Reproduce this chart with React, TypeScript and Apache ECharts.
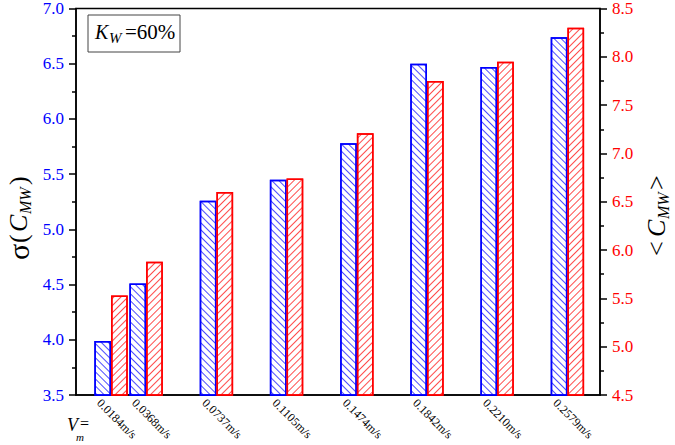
import React, { useEffect, useRef } from "react";
import * as echarts from "echarts";

const velocities = [0.0184, 0.0368, 0.0737, 0.1105, 0.1474, 0.1842, 0.221, 0.2579];
const velocityLabels = ["0.0184m/s", "0.0368m/s", "0.0737m/s", "0.1105m/s", "0.1474m/s", "0.1842m/s", "0.2210m/s", "0.2579m/s"];
const sigmaValues = [3.99, 4.51, 5.26, 5.45, 5.78, 6.5, 6.47, 6.74];
const meanValues = [5.53, 5.88, 6.6, 6.74, 7.21, 7.75, 7.95, 8.3];
const leftAxisRange = [3.5, 7.0];
const rightAxisRange = [4.5, 8.5];
const tickStep = 0.5;
const xRange = [0, 0.275];

const FONT = "'Liberation Serif', 'Times New Roman', serif";

export default function App() {
  const ref = useRef<HTMLDivElement>(null);
  useEffect(() => {
    if (!ref.current) return;
    const chart = echarts.init(ref.current, null, { renderer: "svg" });
    const blue = "#0000ff";
    const red = "#ff0000";
    const yAxisCommon = (color: string) => ({
      type: "value",
      interval: tickStep,
      axisLine: { show: true, lineStyle: { color: "#000", width: 1.5 } },
      axisTick: { show: true, length: 7, lineStyle: { color: "#000", width: 1.5 } },
      minorTick: { show: true, splitNumber: 2, length: 4, lineStyle: { color: "#000", width: 1.5 } },
      axisLabel: { color, fontFamily: FONT, fontSize: 17, margin: 12, formatter: (v: number) => v.toFixed(1) },
      splitLine: { show: false },
      minorSplitLine: { show: false },
    });
    const txt = (text: string, size: number, italic = false, extra: any = {}) => ({
      text,
      fontFamily: FONT,
      fontSize: size,
      fontStyle: italic ? "italic" : "normal",
      fill: "#000",
      verticalAlign: "middle",
      ...extra,
    });
    const option: any = {
      animation: false,
      grid: { left: 76, right: 75, top: 6, bottom: 50, show: true, borderColor: "#000", borderWidth: 1.5, containLabel: false },
      xAxis: {
        type: "value",
        min: xRange[0],
        max: xRange[1],
        axisLine: { show: true, onZero: false, lineStyle: { color: "#000", width: 1.5 } },
        axisTick: { show: false },
        axisLabel: { show: false },
        splitLine: { show: false },
      },
      yAxis: [
        { ...yAxisCommon(blue), min: leftAxisRange[0], max: leftAxisRange[1], position: "left" },
        { ...yAxisCommon(red), min: rightAxisRange[0], max: rightAxisRange[1], position: "right" },
      ],
      series: [
        {
          type: "bar",
          xAxisIndex: 0,
          yAxisIndex: 0,
          barWidth: 16.7,
          barGap: "0%",
          data: velocities.map((v, i) => [v, sigmaValues[i]]),
          itemStyle: {
            color: "#ffffff",
            borderColor: blue,
            borderWidth: 1.5,
            decal: {
              symbol: "rect",
              symbolSize: 1,
              color: "rgba(0,0,255,0.7)",
              dashArrayX: [1, 0],
              dashArrayY: [1, 4],
              rotation: Math.PI / 4,
            },
          },
          emphasis: { disabled: true },
        },
        {
          type: "bar",
          xAxisIndex: 0,
          yAxisIndex: 1,
          barWidth: 16.7,
          barGap: "0%",
          data: velocities.map((v, i) => [v, meanValues[i]]),
          itemStyle: {
            color: "#ffffff",
            borderColor: red,
            borderWidth: 1.5,
            decal: {
              symbol: "rect",
              symbolSize: 1,
              color: "rgba(255,0,0,0.7)",
              dashArrayX: [1, 0],
              dashArrayY: [1, 4],
              rotation: -Math.PI / 4,
            },
          },
          emphasis: { disabled: true },
        },
        {
          type: "custom",
          xAxisIndex: 0,
          yAxisIndex: 0,
          clip: false,
          silent: true,
          data: velocities.map((v, i) => [v, leftAxisRange[0], i]),
          renderItem: (params: any, api: any) => {
            const p = api.coord([api.value(0), api.value(1)]);
            const idx = api.value(2);
            return {
              type: "text",
              x: p[0] - 12,
              y: p[1] + 6,
              rotation: -Math.PI / 4,
              style: txt(velocityLabels[idx], 12, false, { align: "left" }),
            };
          },
        },
      ],
      graphic: [
        {
          type: "group",
          x: 18,
          y: 212,
          rotation: Math.PI / 2,
          children: [
            { type: "text", x: -48, y: 0, style: txt("\u03c3", 30) },
            { type: "text", x: -31, y: 0, style: txt("(", 26) },
            { type: "text", x: -20, y: 0, style: txt("C", 26, true) },
            { type: "text", x: -2, y: 7, style: txt("MW", 16, true) },
            { type: "text", x: 27, y: 0, style: txt(")", 26) },
          ],
        },
        {
          type: "group",
          x: 656,
          y: 213,
          rotation: Math.PI / 2,
          children: [
            { type: "text", x: -43, y: 0, style: txt("<", 26) },
            { type: "text", x: -24, y: 0, style: txt("C", 26, true) },
            { type: "text", x: -6, y: 7, style: txt("MW", 16, true) },
            { type: "text", x: 23, y: 0, style: txt(">", 26) },
          ],
        },
        {
          type: "rect",
          shape: { x: 88, y: 15, width: 92, height: 37 },
          style: { fill: "#fff", stroke: "#444", lineWidth: 1 },
        },
        { type: "text", x: 95, y: 32, style: txt("K", 20, true) },
        { type: "text", x: 109, y: 38, style: txt("W", 15, true) },
        { type: "text", x: 125, y: 32, style: txt("=60%", 21) },
        { type: "text", x: 67, y: 425, style: txt("V", 18, true) },
        { type: "text", x: 76, y: 437, style: txt("m", 11, true) },
        { type: "text", x: 80, y: 423, style: txt("=", 16) },
      ],
    };
    chart.setOption(option);
    return () => chart.dispose();
  }, []);
  return <div ref={ref} style={{ width: 675, height: 445, position: "absolute", left: 0, top: 0 }} />;
}
